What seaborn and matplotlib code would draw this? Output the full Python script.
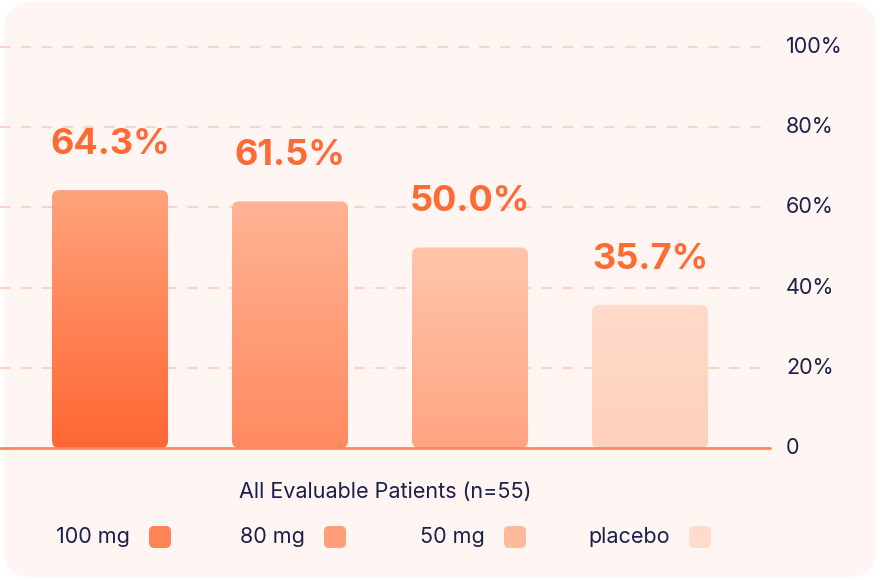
import matplotlib
matplotlib.use('Agg')
import matplotlib.pyplot as plt
from matplotlib.patches import FancyBboxPatch
from matplotlib.colors import LinearSegmentedColormap
import seaborn as sns
import numpy as np
import pandas as pd

# dados
grupos = ['100 mg', '80 mg', '50 mg', 'placebo']
respostas = [64.3, 61.5, 50.0, 35.7]
rotulos = ['64.3%', '61.5%', '50.0%', '35.7%']
ticks_y = [0, 20, 40, 60, 80, 100]
ticks_txt = ['0', '20%', '40%', '60%', '80%', '100%']

cor_topo = ['#FFA37C', '#FFB394', '#FFC5AB', '#FFDACA']
cor_base = ['#FF6633', '#FF8A60', '#FFA582', '#FFD0BC']
cor_legenda = ['#FF8455', '#FF9E78', '#FFBA9C', '#FFDBCB']
texto = '#1B1F4B'
laranja = '#FF6A35'
fundo = '#FFF5F2'

df = pd.DataFrame({'grupo': grupos, 'resposta': respostas})

sns.set_style('white')
plt.rcParams['font.family'] = ['Inter', 'DejaVu Sans']

fig = plt.figure(figsize=(8.8, 5.8), dpi=100)
fig.patch.set_facecolor('white')
# fundo arredondado
fig.patches.append(FancyBboxPatch((0.004, 0.004), 0.992, 0.992, boxstyle='round,pad=0,rounding_size=0.035',
                                  transform=fig.transFigure, facecolor=fundo, edgecolor='none',
                                  mutation_aspect=880 / 580, zorder=-5))

ax = fig.add_axes([0, 1 - 448 / 580, 770 / 880, 401 / 580])
ax.set_facecolor('none')
sns.barplot(data=df, x='grupo', y='resposta', hue='grupo', palette=cor_legenda, width=116 / 180,
            legend=False, ax=ax, saturation=1)
ax.set_xlim(-110 / 180, -110 / 180 + 770 / 180)
ax.set_ylim(0, 100)

# barras com gradiente e cantos arredondados
for i, p in enumerate(list(ax.patches)):
    x0, y0 = p.get_x(), p.get_y()
    w, h = p.get_width(), p.get_height()
    p.set_visible(False)
    caixa = FancyBboxPatch((x0, y0), w, h, boxstyle='round,pad=0,rounding_size=0.04',
                           mutation_aspect=180 / 4.01, facecolor='none', edgecolor='none')
    ax.add_patch(caixa)
    cmap = LinearSegmentedColormap.from_list('g', [cor_base[i], cor_topo[i]])
    grad = np.linspace(0, 1, 256).reshape(-1, 1)
    img = ax.imshow(grad, cmap=cmap, aspect='auto', origin='lower',
                    extent=(x0, x0 + w, y0, y0 + h), zorder=2)
    img.set_clip_path(caixa)
    ax.annotate(rotulos[i], (x0 + w / 2, h), xytext=(0, 21), textcoords='offset points',
                ha='center', va='bottom', fontsize=26, fontweight='bold', color=laranja, zorder=3)
ax.set_xlim(-110 / 180, -110 / 180 + 770 / 180)
ax.set_ylim(0, 100)

# grade
for v in ticks_y[1:]:
    ax.axhline(v, color='#FFD3C4', lw=1.5, ls=(0, (5, 5)), zorder=1, clip_on=False)
ax.axhline(0, color='#FF8560', lw=2, zorder=4, clip_on=False)

ax.set_xticks([])
ax.set_yticks([])
ax.set_xlabel('')
ax.set_ylabel('')
sns.despine(ax=ax, left=True, bottom=True)

for v, t in zip(ticks_y, ticks_txt):
    fig.text(786 / 880, 1 - (448 - v * 4.01) / 580, t, ha='left', va='center',
             fontsize=15.5, color=texto)

fig.text(385 / 880, 1 - 492 / 580, 'All Evaluable Patients (n=55)', ha='center', va='center',
         fontsize=15.5, color=texto)

# legenda
leg_x = [160, 335, 515, 700]
for cx, g, c in zip(leg_x, grupos, cor_legenda):
    fig.patches.append(FancyBboxPatch(((cx - 11) / 880, 1 - 548 / 580), 22 / 880, 22 / 580,
                                      boxstyle='round,pad=0,rounding_size=0.006',
                                      mutation_aspect=880 / 580,
                                      transform=fig.transFigure, facecolor=c, edgecolor='none'))
    fig.text((cx - 30) / 880, 1 - 537 / 580, g, ha='right', va='center', fontsize=15.5, color=texto)

fig.savefig('out.png', dpi=100, facecolor=fig.get_facecolor())
